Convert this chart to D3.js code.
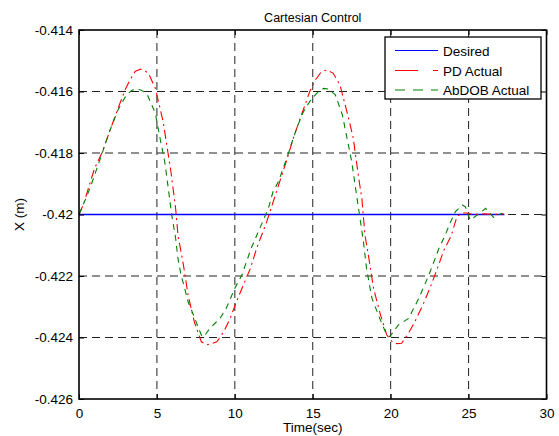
<!DOCTYPE html>
<html><head><meta charset="utf-8">
<script src="https://cdn.jsdelivr.net/npm/d3@7"></script>
<style>body{margin:0;background:#fff}svg{display:block}text{font-family:Arial,"Liberation Sans",Helvetica,sans-serif}</style>
</head><body><svg id="c" width="559" height="436"></svg>
<script>
const xTicks=[0,5,10,15,20,25,30];
const yTicks=[-0.414,-0.416,-0.418,-0.42,-0.422,-0.424,-0.426];
const yTickLabels=["-0.414","-0.416","-0.418","-0.42","-0.422","-0.424","-0.426"];
const seriesNames=["Desired","PD Actual","AbDOB Actual"];
const desiredT=[0,27.3];
const desiredV=[-0.42,-0.42];
const pdT=[0,0.3,0.6,1.0,1.5,2.0,2.5,3.0,3.3,3.6,3.95,4.3,4.5,4.9,5.4,5.9,6.2,6.35,6.7,7.0,7.4,7.85,8.2,8.5,8.85,9.3,9.7,10.1,10.5,11.0,11.4,12.05,12.6,13.3,13.75,14.2,14.8,15.2,15.55,15.9,16.3,16.75,17.3,17.6,17.95,18.15,18.35,18.6,18.9,19.35,19.75,20.1,20.4,20.7,21.1,21.55,22.1,22.6,23.0,23.4,23.9,24.25,24.6,24.9,25.3,26.0,26.6,27.25];
const pdV=[-0.4200,-0.41965,-0.41915,-0.41850,-0.41796,-0.41725,-0.41655,-0.41590,-0.41560,-0.41535,-0.41527,-0.41535,-0.41545,-0.41590,-0.41698,-0.41861,-0.41980,-0.42067,-0.42164,-0.42262,-0.42349,-0.42414,-0.42424,-0.42420,-0.42414,-0.42380,-0.42338,-0.42284,-0.42235,-0.42175,-0.42110,-0.42023,-0.41937,-0.41828,-0.41752,-0.41687,-0.41601,-0.41560,-0.41536,-0.41530,-0.41540,-0.41579,-0.41687,-0.41752,-0.41882,-0.41947,-0.42067,-0.42142,-0.42240,-0.42327,-0.42392,-0.42414,-0.42420,-0.42419,-0.42390,-0.42349,-0.42290,-0.42229,-0.42175,-0.42118,-0.42067,-0.42007,-0.41995,-0.41995,-0.42000,-0.41998,-0.42000,-0.41998];
const dobT=[0,0.45,0.78,1.3,1.95,2.5,3.05,3.4,3.7,4.0,4.35,4.9,5.2,5.5,5.73,5.95,6.2,6.35,6.55,6.78,7.0,7.3,7.85,8.0,8.4,9.05,9.45,10.0,10.45,11.05,11.6,12.15,12.45,12.8,13.1,13.4,13.75,14.05,14.4,14.8,15.25,15.7,16.0,16.45,16.9,17.2,17.5,17.75,17.97,18.25,18.45,18.8,19.3,19.75,19.95,20.5,21.15,21.8,22.45,23.1,23.5,23.8,24.15,24.6,24.8,25.1,25.55,26.1,26.6,27.15];
const dobV=[-0.4200,-0.41947,-0.41904,-0.41828,-0.41731,-0.41660,-0.41611,-0.41596,-0.41592,-0.41596,-0.41606,-0.41671,-0.41752,-0.41828,-0.41915,-0.42002,-0.42077,-0.42143,-0.42197,-0.42240,-0.42284,-0.42321,-0.42392,-0.42398,-0.42370,-0.42338,-0.42305,-0.42240,-0.42197,-0.42110,-0.42045,-0.41980,-0.41926,-0.41893,-0.41850,-0.41807,-0.41752,-0.41709,-0.41666,-0.41633,-0.41606,-0.41590,-0.41592,-0.41611,-0.41676,-0.41752,-0.41828,-0.41915,-0.41991,-0.42088,-0.42175,-0.42273,-0.42338,-0.42392,-0.42397,-0.42359,-0.42338,-0.42273,-0.42197,-0.42110,-0.42067,-0.42029,-0.41991,-0.41969,-0.41975,-0.42018,-0.42002,-0.41980,-0.42009,-0.41996];

const L=79,R=546.5,T=30,B=399;
const svg=d3.select("#c");
const x=d3.scaleLinear().domain([0,30]).range([L,R]);
const y=d3.scaleLinear().domain([-0.426,-0.414]).range([B,T]);

// grid
const g=svg.append("g");
g.selectAll(".gx").data(xTicks.slice(1,-1)).enter().append("line")
 .attr("x1",d=>x(d)).attr("x2",d=>x(d)).attr("y1",T).attr("y2",B)
 .attr("stroke","#222").attr("stroke-width",1).attr("stroke-dasharray","8,5");
g.selectAll(".gy").data(yTicks.slice(1,-1)).enter().append("line")
 .attr("y1",d=>y(d)).attr("y2",d=>y(d)).attr("x1",L).attr("x2",R)
 .attr("stroke","#222").attr("stroke-width",1).attr("stroke-dasharray","8,5");

const line=d3.line().x(d=>x(d[0])).y(d=>y(d[1]));
const zip=(a,b)=>a.map((t,i)=>[t,b[i]]);
svg.append("path").attr("d",line(zip(desiredT,desiredV))).attr("fill","none").attr("stroke","#0000ff").attr("stroke-width",1.3);
svg.append("path").attr("d",line(zip(pdT,pdV))).attr("fill","none").attr("stroke","#ff0000").attr("stroke-width",1.1).attr("stroke-dasharray","9,4,2,4");
svg.append("path").attr("d",line(zip(dobT,dobV))).attr("fill","none").attr("stroke","#008000").attr("stroke-width",1.1).attr("stroke-dasharray","6,5");

// axes
const xa=d3.axisBottom(x).tickValues(xTicks).tickSize(-5).tickPadding(9);
const ya=d3.axisLeft(y).tickValues(yTicks).tickSize(-5).tickPadding(6).tickFormat((d,i)=>yTickLabels[i]);
const gx=svg.append("g").attr("transform",`translate(0,${B})`).call(xa);
const gy=svg.append("g").attr("transform",`translate(${L},0)`).call(ya);
[gx,gy].forEach(a=>{a.select(".domain").remove();a.selectAll("line").attr("stroke","#000");a.selectAll("text").attr("fill","#000").style("font-size","13.5px").style("font-family","Arial, 'Liberation Sans', sans-serif");});
svg.append("g").attr("transform",`translate(0,${T})`).call(d3.axisTop(x).tickValues(xTicks).tickSize(-5).tickFormat("")).call(a=>a.select(".domain").remove());
svg.append("g").attr("transform",`translate(${R},0)`).call(d3.axisRight(y).tickValues(yTicks).tickSize(-5).tickFormat("")).call(a=>a.select(".domain").remove());
svg.append("rect").attr("x",L).attr("y",T).attr("width",R-L).attr("height",B-T).attr("fill","none").attr("stroke","#000").attr("stroke-width",1.6);

// labels
svg.append("text").attr("x",(L+R)/2).attr("y",22).attr("text-anchor","middle").style("font-size","12.5px").text("Cartesian Control");
svg.append("text").attr("x",(L+R)/2).attr("y",432).attr("text-anchor","middle").style("font-size","13.5px").text("Time(sec)");
svg.append("text").attr("transform",`translate(24,${(T+B)/2}) rotate(-90)`).attr("text-anchor","middle").style("font-size","13.5px").text("X (m)");

// legend
const lg=svg.append("g");
lg.append("rect").attr("x",385).attr("y",37).attr("width",156).attr("height",62).attr("fill","#fff").attr("stroke","#000").attr("stroke-width",1.3);
const cols=["#0000ff","#ff0000","#008000"];
const dashes=[null,"23,15,5,15","10,8"];
const rowsY=[50.5,70.5,90];
seriesNames.forEach((n,i)=>{
 lg.append("line").attr("x1",395).attr("x2",438).attr("y1",rowsY[i]).attr("y2",rowsY[i]).attr("stroke",cols[i]).attr("stroke-width",1.2).attr("stroke-dasharray",dashes[i]);
 lg.append("text").attr("x",443).attr("y",rowsY[i]+5).style("font-size","13.5px").text(n);
});
</script></body></html>
